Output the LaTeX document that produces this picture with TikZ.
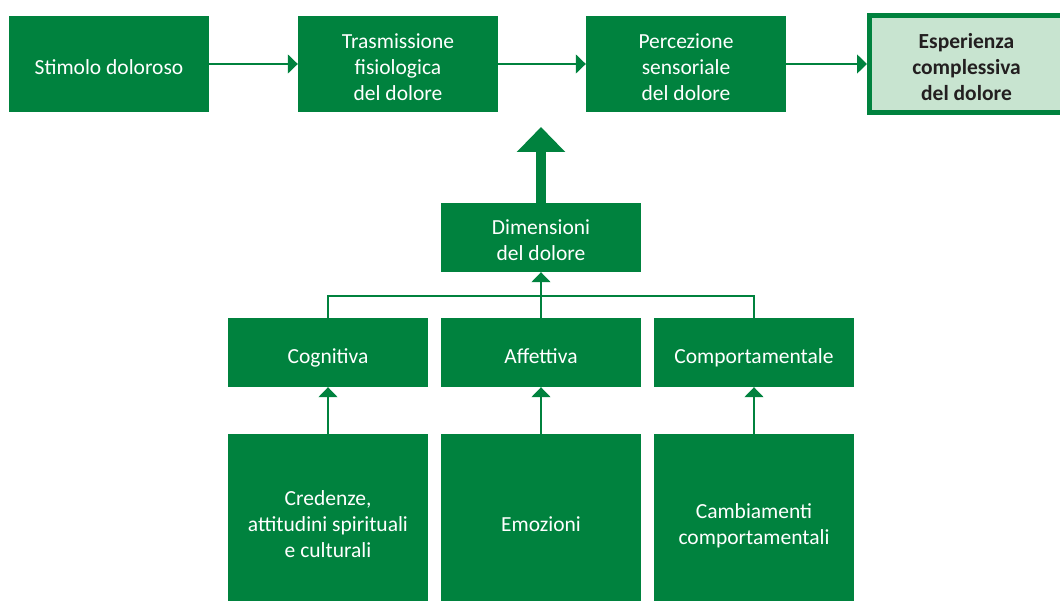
\documentclass[tikz,border=0pt]{standalone}
\usepackage{fontspec}
\setmainfont{Carlito}
\usetikzlibrary{arrows.meta}

\definecolor{verde}{RGB}{0,130,62}
\definecolor{verdechiaro}{RGB}{200,228,208}
\definecolor{scuro}{RGB}{35,31,32}

\tikzset{
  box/.style={fill=verde, text=white, align=center, inner sep=0pt,
    minimum width=200pt, font=\fontsize{21.5}{26}\selectfont,
    text height=21pt, text depth=0pt},
  duerighe/.style={text height=47pt},
  trerighe/.style={text height=73pt},
  topbox/.style={box, minimum height=96pt},
  midbox/.style={box, minimum height=69pt},
  lowbox/.style={box, minimum height=173pt},
  freccia/.style={draw=verde, line width=1.5pt, -{Triangle[width=19pt,length=10pt]}},
  linea/.style={draw=verde, line width=1.5pt}
}

\begin{document}
\begin{tikzpicture}[x=1pt, y=-1pt]
  \useasboundingbox (0,0) rectangle (1060,601);
  \clip (0,0) rectangle (1060,601);

  % riga superiore
  \node[topbox] (stimolo) at (109,64) {Stimolo doloroso};
  \node[topbox, trerighe] (trasm) at (398,64) {Trasmissione\\fisiologica\\del dolore};
  \node[topbox, trerighe] (perc) at (686,64) {Percezione\\sensoriale\\del dolore};
  \node[box, trerighe, draw=verde, line width=5pt, fill=verdechiaro, text=scuro,
    minimum width=194pt, minimum height=97pt,
    font=\fontsize{21.5}{26}\selectfont\bfseries] (esper) at (966.5,64)
    {Esperienza\\complessiva\\del dolore};

  \draw[freccia] (stimolo) -- (trasm);
  \draw[freccia] (trasm) -- (perc);
  \draw[freccia] (perc) -- (esper);

  % dimensioni
  \node[midbox, duerighe] (dim) at (541,237.5) {Dimensioni\\del dolore};
  \coordinate (punta) at (541,127);
  \draw[verde, line width=10pt, -{Triangle[width=47pt,length=25pt]}] (dim.north) -- (punta);

  \node[midbox] (cogn) at (328,352.5) {Cognitiva};
  \node[midbox] (affe) at (541,352.5) {Affettiva};
  \node[midbox] (comp) at (754,352.5) {Comportamentale};

  \coordinate (nodo) at (541,296);
  \draw[linea] (cogn.north) |- (nodo) -| (comp.north);
  \draw[freccia] (affe.north) -- (dim.south);

  % riga inferiore
  \node[lowbox, trerighe] (cred) at (328,520.5) {Credenze,\\attitudini spirituali\\e culturali};
  \node[lowbox] (emoz) at (541,520.5) {Emozioni};
  \node[lowbox, duerighe] (camb) at (754,520.5) {Cambiamenti\\comportamentali};

  \draw[freccia] (cred) -- (cogn);
  \draw[freccia] (emoz) -- (affe);
  \draw[freccia] (camb) -- (comp);
\end{tikzpicture}
\end{document}
